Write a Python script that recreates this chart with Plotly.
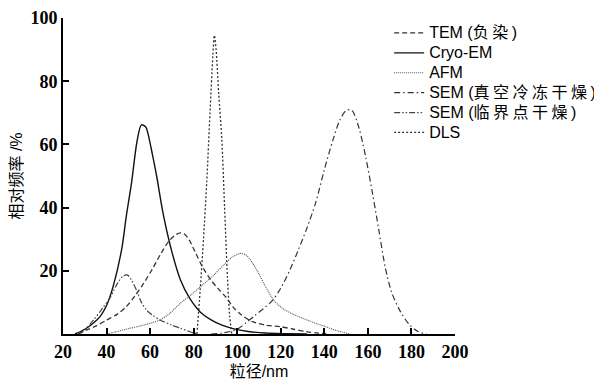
import plotly.graph_objects as go

# ---- data ----
tem_x = [27, 31, 35, 40, 45, 49, 53, 57, 61, 65, 69, 72, 74, 76, 78, 81, 84, 88, 91, 95, 98, 102, 107, 113, 120, 126, 132, 137, 141]
tem_y = [0, 1.3, 2.5, 4.4, 6.3, 8.6, 12, 16, 20.5, 25.5, 29.7, 31.5, 32, 31.5, 29.7, 25.5, 21.3, 17, 14.5, 11.5, 8.6, 6, 3.9, 2.8, 2.3, 1.5, 0.7, 0.3, 0]

cryo_x = [25.5, 30, 34, 37, 40, 43, 47, 49, 51.5, 54, 56, 58, 59, 61, 63, 66, 70, 74, 78, 83, 88, 93, 98, 105, 113, 122, 132]
cryo_y = [0, 1.5, 3.5, 5.5, 9, 15, 27, 37, 48, 61, 66.2, 65.5, 63.5, 57, 50, 38, 26, 17, 11.5, 7, 4.5, 2.8, 1.7, 0.8, 0.3, 0.1, 0]

afm_x = [40, 45, 50, 54, 58, 62, 65, 69, 74, 79, 84, 89, 94, 98, 101.5, 104, 107, 110, 113, 117, 121, 125, 130, 136, 141, 146, 152]
afm_y = [0, 0.8, 1.7, 2.3, 3.0, 3.8, 4.6, 6.5, 9.8, 12.5, 15.5, 18.5, 22, 24.5, 25.5, 25, 22.5, 19, 15, 10.5, 8, 6.5, 5, 3.4, 2.2, 1.0, 0]

semv_x = [88, 93, 97, 100, 104, 108, 112, 116, 120, 124, 128, 132, 136, 140, 144, 147, 150, 151.5, 153, 156, 159, 162, 165, 168, 171, 175, 179, 183, 187]
semv_y = [0, 0.3, 0.8, 1.5, 3.5, 5.8, 8, 10.5, 14.5, 20, 26.5, 33.5, 41.5, 52, 61.5, 67.5, 70.8, 71, 70.5, 65, 56, 45, 33, 21, 13, 7, 3, 0.8, 0]

semc_x = [27, 30, 34, 38, 42, 45, 47.5, 49.5, 51.5, 54, 56, 58.5, 61, 65, 70, 74, 78, 82]
semc_y = [0, 1.3, 4.4, 8, 12, 16, 18.3, 18.7, 17, 13.5, 10, 7.5, 6, 4.3, 2.8, 1.8, 0.8, 0]

dls_x = [81.5, 83, 84.5, 86, 87.5, 88.8, 89.5, 90.3, 91.5, 92.9, 94.2, 95.5, 96.5, 97.5]
dls_y = [0, 14, 30, 48, 70, 88, 94.5, 90, 76, 62, 40, 18, 6, 0]

x_ticks = [20, 40, 60, 80, 100, 120, 140, 160, 180, 200]
y_ticks = [20, 40, 60, 80, 100]

# legend labels: (latin part, CJK part, closing)
names = [("TEM (", "负染", ")"), ("Cryo-EM", "", ""), ("AFM", "", ""),
         ("SEM (", "真空冷冻干燥", ")"), ("SEM (", "临界点干燥", ")"), ("DLS", "", "")]


def legend_label(parts):
    a, cjk, c = parts
    s = '<span style="font-size:16px">' + a
    if cjk:
        s += '<span style="letter-spacing:3.5px">' + cjk + '</span>'
    s += c + '</span>'
    return s


series = [
    (tem_x, tem_y, "5px,3px", "#333333", 1.3),
    (cryo_x, cryo_y, "solid", "#111111", 1.4),
    (afm_x, afm_y, "1px,1px", "#555555", 1.1),
    (semv_x, semv_y, "6px,3px,1.5px,3px", "#333333", 1.2),
    (semc_x, semc_y, "6px,2px,1.5px,2px,1.5px,2px", "#444444", 1.2),
    (dls_x, dls_y, "2px,2px", "#333333", 1.3),
]

fig = go.Figure()
for parts, (xs, ys, dash, color, w) in zip(names, series):
    fig.add_trace(go.Scatter(
        x=xs, y=ys, name=legend_label(parts), mode="lines",
        line=dict(color=color, width=w, dash=dash, shape="spline", smoothing=0.8),
    ))

tick_font = dict(family="Liberation Serif", size=18, color="black", weight="bold")
title_font = dict(family="Liberation Sans, Noto Sans CJK SC", size=16, color="black")

# the page body adds an 8px margin, so the figure is sized to fit inside it
fig.update_layout(
    width=594, height=372,
    margin=dict(l=55, r=147, t=10, b=46, autoexpand=False),
    paper_bgcolor="white", plot_bgcolor="white",
    showlegend=True,
    legend=dict(
        x=0.832, y=1.0, xanchor="left", yanchor="top",
        bgcolor="rgba(0,0,0,0)", borderwidth=0,
        font=dict(family="Liberation Sans, Noto Sans CJK SC", size=13, color="black"),
        itemwidth=30, tracegroupgap=0,
    ),
    xaxis=dict(
        range=[20, 200], tickvals=x_ticks, ticktext=[str(v) for v in x_ticks],
        ticks="inside", ticklen=6, tickwidth=1.5, tickcolor="black",
        showline=True, linewidth=2, linecolor="black", automargin=False,
        showgrid=False, zeroline=False, tickfont=tick_font,
        title=dict(text="粒径/nm", font=title_font, standoff=8),
    ),
    yaxis=dict(
        range=[0, 100], tickvals=y_ticks, ticktext=[str(v) for v in y_ticks],
        ticks="inside", ticklen=6, tickwidth=1.5, tickcolor="black",
        showline=True, linewidth=2, linecolor="black", automargin=False,
        showgrid=False, zeroline=False, tickfont=tick_font,
        title=dict(text="相对频率 /%", font=title_font, standoff=8),
    ),
)

fig.write_html("out.html")
